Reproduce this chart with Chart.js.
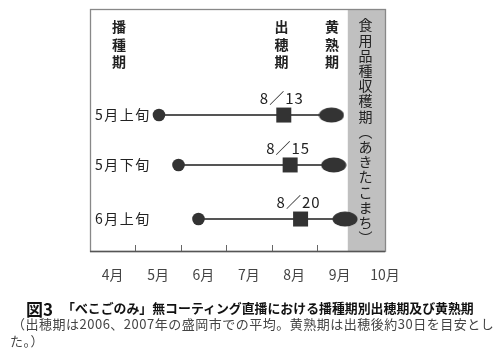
<!DOCTYPE html>
<html><head><meta charset="utf-8">
<script src="https://cdn.jsdelivr.net/npm/chart.js@4/dist/chart.umd.min.js"></script>
<style>
body{margin:0;background:#fff;}
#wrap{position:relative;width:500px;height:358px;overflow:hidden;font-family:"Noto Sans CJK JP",sans-serif;}
canvas{position:absolute;left:0;top:0;}
.cap{position:absolute;white-space:nowrap;line-height:1;}
</style></head><body>
<div id="wrap"><canvas id="c" width="500" height="358"></canvas>
<div class="cap" style="left:26px;top:300px;font-weight:bold;font-size:17px;color:#111;">図3</div>
<div class="cap" style="left:62px;top:302px;font-weight:bold;font-size:12.9px;color:#111;">「べこごのみ」無コーティング直播における播種期別出穂期及び黄熟期</div>
<div class="cap" style="left:12px;top:317px;font-size:13px;letter-spacing:0.5px;color:#444;">（出穂期は2006、2007年の盛岡市での平均。黄熟期は出穂後約30日を目安とし</div>
<div class="cap" style="left:10px;top:334px;font-size:13px;letter-spacing:0.5px;color:#444;">た。）</div>
</div>
<script>
// ---- data (x values = months after April 1) ----
const rowLabels = ['5月上旬', '5月下旬', '6月上旬'];
const rowY = [3, 2.04, 1];
const sowing = [1.52, 1.95, 2.39];
const heading = [4.27, 4.41, 4.64];
const ripening = [5.32, 5.37, 5.62];
const headingLabels = ['8／13', '8／15', '8／20'];
const monthLabels = ['4月', '5月', '6月', '7月', '8月', '9月', '10月'];
const monthTickValues = [0.5, 1.5, 2.5, 3.5, 4.5, 5.5, 6.5];
const monthBoundaries = [1, 2, 3, 4, 5, 6];
const harvestBand = [5.68, 6.5];
const harvestText = '食用品種収穫期︵あきたこまち︶';
const columnHeaders = [
  { text: '播種期', x: 0.64 },
  { text: '出穂期', x: 4.22 },
  { text: '黄熟期', x: 5.33 }
];

const FONT = '"Noto Sans CJK JP", sans-serif';

// ellipse marker for ripening
const ell = document.createElement('canvas');
ell.width = 26; ell.height = 16;
{
  const g = ell.getContext('2d');
  g.fillStyle = '#333';
  g.beginPath();
  g.ellipse(13, 8, 12.5, 7.5, 0, 0, Math.PI * 2);
  g.fill();
}

const datasets = rowLabels.map((lab, i) => ({
  label: lab,
  data: [
    { x: sowing[i], y: rowY[i] },
    { x: heading[i], y: rowY[i] },
    { x: ripening[i], y: rowY[i] }
  ],
  borderColor: '#555',
  borderWidth: 2,
  backgroundColor: '#333',
  pointBackgroundColor: '#333',
  pointBorderWidth: 0,
  pointStyle: ['circle', 'rect', ell],
  pointRadius: [6.3, 10.6, 7],
  showLine: true,
  fill: false
}));

const decor = {
  id: 'decor',
  beforeDatasetsDraw(chart) {
    const { ctx, chartArea: a, scales: { x } } = chart;
    ctx.save();
    // boundary ticks
    ctx.strokeStyle = '#666';
    ctx.lineWidth = 1;
    monthBoundaries.forEach(v => {
      const px = Math.round(x.getPixelForValue(v)) + 0.5;
      ctx.beginPath();
      ctx.moveTo(px, a.bottom);
      ctx.lineTo(px, a.bottom - 6);
      ctx.stroke();
    });
    // harvest band
    const b0 = x.getPixelForValue(harvestBand[0]);
    const b1 = x.getPixelForValue(harvestBand[1]);
    ctx.fillStyle = '#c0c0c0';
    ctx.fillRect(b0, a.top, b1 - b0, a.bottom - a.top);
    // frame
    ctx.strokeStyle = '#888';
    ctx.lineWidth = 1.3;
    ctx.strokeRect(a.left + 0.5, a.top + 0.5, a.right - a.left, a.bottom - a.top);
    ctx.strokeStyle = '#555';
    ctx.beginPath();
    ctx.moveTo(a.left, a.bottom + 0.5);
    ctx.lineTo(a.right, a.bottom + 0.5);
    ctx.stroke();
    // band text (vertical)
    ctx.fillStyle = '#222';
    ctx.font = '14px ' + FONT;
    ctx.textAlign = 'center';
    ctx.textBaseline = 'middle';
    const bc = (b0 + b1) / 2 - 1;
    [...harvestText].forEach((ch, k) => ctx.fillText(ch, bc, a.top + 16 + k * 15.2));
    // column headers (vertical)
    ctx.font = 'bold 14px ' + FONT;
    ctx.fillStyle = '#222';
    columnHeaders.forEach(h => {
      const px = x.getPixelForValue(h.x);
      [...h.text].forEach((ch, k) => ctx.fillText(ch, px, a.top + 18 + k * 17.5));
    });
    ctx.restore();
  },
  afterDatasetsDraw(chart) {
    const { ctx, chartArea: a, scales: { x, y } } = chart;
    ctx.save();
    ctx.fillStyle = '#222';
    ctx.textBaseline = 'middle';
    // heading date labels
    ctx.font = '15px ' + FONT;
    ctx.textAlign = 'center';
    if ('letterSpacing' in ctx) ctx.letterSpacing = '1px';
    headingLabels.forEach((t, i) => {
      ctx.fillText(t, x.getPixelForValue(heading[i]) - 2, y.getPixelForValue(rowY[i]) - 17);
    });
    // row labels
    ctx.font = '14px ' + FONT;
    ctx.textAlign = 'left';
    if ('letterSpacing' in ctx) ctx.letterSpacing = '1.5px';
    rowLabels.forEach((t, i) => {
      ctx.fillText(t, a.left + 5, y.getPixelForValue(rowY[i]));
    });
    ctx.restore();
  }
};

new Chart(document.getElementById('c'), {
  type: 'scatter',
  data: { datasets },
  options: {
    responsive: false,
    animation: false,
    events: [],
    layout: { padding: { left: 90, right: 115, top: 9, bottom: 0 } },
    plugins: { legend: { display: false }, tooltip: { enabled: false } },
    scales: {
      x: {
        type: 'linear',
        min: 0,
        max: 6.5,
        afterBuildTicks(s) { s.ticks = monthTickValues.map(v => ({ value: v })); },
        afterFit(s) { s.height = 107; },
        grid: { display: false },
        border: { display: false },
        ticks: {
          autoSkip: false,
          maxRotation: 0,
          padding: 7,
          color: '#444',
          font: { family: FONT, size: 14 },
          callback(v) { const i = monthTickValues.indexOf(v); return i >= 0 ? monthLabels[i] : ''; }
        }
      },
      y: {
        type: 'linear',
        display: false,
        min: 0.385,
        max: 5.04
      }
    }
  },
  plugins: [decor]
});
</script>
</body></html>
